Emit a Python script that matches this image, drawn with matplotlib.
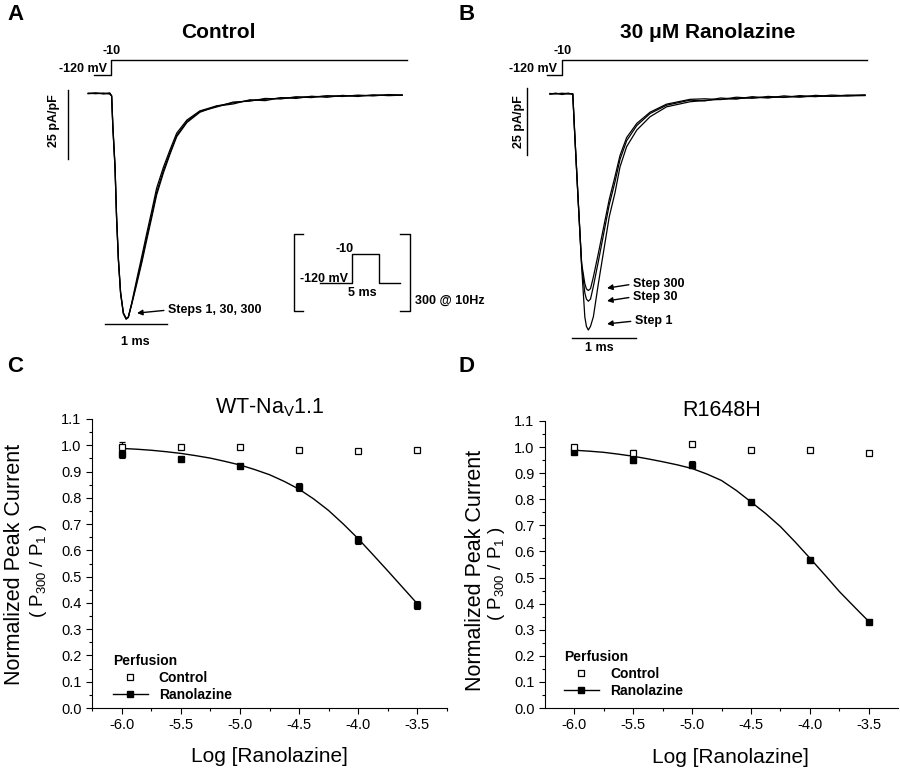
import matplotlib
matplotlib.use("Agg")
import matplotlib.pyplot as plt
from matplotlib.lines import Line2D
from matplotlib.ticker import MultipleLocator, FormatStrFormatter

plt.rcParams['font.family'] = ['Liberation Sans', 'DejaVu Sans']
plt.rcParams['mathtext.fontset'] = 'custom'
plt.rcParams['mathtext.rm'] = 'Liberation Sans'
plt.rcParams['mathtext.it'] = 'Liberation Sans:italic'
plt.rcParams['mathtext.bf'] = 'Liberation Sans:bold'
plt.rcParams['axes.unicode_minus'] = False

# ---- current traces (ms, pA/pF) ----
a_time = [-0.37, -0.25, -0.12, -0.02, 0.01, 0.03, 0.065, 0.09, 0.12, 0.155, 0.2, 0.245,
          0.28, 0.335, 0.415, 0.5, 0.58, 0.66, 0.74, 0.85, 0.955, 1.065, 1.23, 1.44,
          1.71, 1.98, 2.25, 2.5, 2.75, 3.0, 3.25, 3.5, 3.75, 4.0, 4.25, 4.5, 4.72]
a_step1 = [0.2, 0.4, 0.0, 0.4, -0.7, -11.9, -26.4, -44.4, -59.9, -71.8, -79.1, -81.2,
           -80.5, -75.5, -67.1, -58.5, -50.2, -42.2, -33.9, -26.4, -20.2, -14.1, -9.4, -6.1,
           -4.3, -3.2, -2.3, -1.9, -1.5, -1.2, -1.0, -0.8, -0.7, -0.6, -0.5, -0.4, -0.4]
a_step30 = [0.3, 0.1, 0.3, 0.2, -0.6, -11.5, -26.0, -44.0, -59.5, -71.5, -79.0, -81.0,
            -80.6, -76.0, -68.8, -60.8, -52.6, -44.6, -36.4, -28.4, -21.8, -15.4, -10.3, -6.6,
            -4.4, -3.6, -2.1, -2.4, -1.3, -1.6, -0.8, -1.2, -0.5, -0.9, -0.3, -0.6, -0.4]
a_step300 = [0.1, 0.3, 0.2, 0.0, -0.8, -12.2, -26.8, -44.8, -60.2, -72.0, -79.3, -81.3,
             -80.7, -75.8, -68.0, -59.8, -51.6, -43.6, -35.4, -27.6, -21.2, -14.9, -9.9, -6.3,
             -4.7, -2.9, -2.6, -1.6, -1.8, -1.0, -1.3, -0.6, -0.9, -0.4, -0.7, -0.2, -0.4]

b_time = [-0.19, -0.1, 0.0, 0.1, 0.17, 0.2, 0.255, 0.31, 0.36, 0.385, 0.415, 0.45,
          0.495, 0.575, 0.66, 0.745, 0.835, 0.915, 1.02, 1.18, 1.39, 1.65, 2.02, 2.25,
          2.5, 2.75, 3.0, 3.25, 3.5, 3.75, 4.0, 4.25, 4.5, 4.78]
b_step1 = [0.0, 0.3, -0.2, 0.2, 0.0, -14.6, -39.7, -64.8, -83.5, -87.0, -88.4, -87.0,
           -83.4, -70.8, -58.4, -46.0, -37.1, -27.3, -19.7, -13.5, -8.5, -4.8, -2.9, -2.4,
           -2.0, -1.7, -1.4, -1.3, -1.1, -1.0, -0.9, -0.8, -0.7, -0.6]
b_step30 = [0.2, 0.0, 0.3, 0.0, 0.1, -14.3, -39.5, -64.0, -74.5, -76.8, -77.6, -76.8,
            -72.0, -62.5, -52.0, -41.5, -33.0, -24.5, -17.5, -11.8, -7.3, -4.2, -2.3, -2.6,
            -1.5, -1.9, -1.0, -1.5, -0.7, -1.2, -0.5, -0.9, -0.4, -0.5]
b_step300 = [-0.1, 0.2, 0.1, 0.3, -0.1, -14.9, -40.0, -63.5, -71.0, -73.0, -73.6, -72.9,
             -68.5, -59.5, -49.5, -39.5, -31.0, -23.0, -16.3, -11.0, -6.8, -3.8, -2.0, -1.8,
             -2.1, -1.2, -1.6, -0.9, -1.3, -0.6, -1.0, -0.4, -0.7, -0.3]

# voltage protocols (ms, mV)
proto_v = [-120, -120, -10, -10]
proto_a_t = [-0.28, 0, 0, 4.8]
proto_b_t = [-0.24, 0, 0, 4.81]
train_t = [-5.9, 0, 0, 5, 5, 8.9]
train_v = [-120, -120, -10, -10, -120, -120]

# ---- use-dependent block ----
log_conc = [-6.0, -5.5, -5.0, -4.5, -4.0, -3.5]
wt_ctrl = [0.995, 0.995, 0.995, 0.983, 0.977, 0.982]
wt_ctrl_err = [0.018, 0.006, 0.005, 0.005, 0.004, 0.008]
wt_rano = [0.965, 0.948, 0.921, 0.840, 0.641, 0.393]
wt_rano_err = [0.012, 0.006, 0.006, 0.015, 0.015, 0.015]

mut_ctrl = [0.999, 0.977, 1.013, 0.989, 0.988, 0.976]
mut_ctrl_err = [0.006, 0.012, 0.005, 0.004, 0.004, 0.008]
mut_rano = [0.982, 0.950, 0.932, 0.788, 0.566, 0.330]
mut_rano_err = [0.006, 0.012, 0.014, 0.006, 0.006, 0.008]

# fitted curves
fit_x = [-6.0, -5.875, -5.75, -5.625, -5.5, -5.375, -5.25, -5.125, -5.0, -4.875, -4.75,
         -4.625, -4.5, -4.375, -4.25, -4.125, -4.0, -3.875, -3.75, -3.625, -3.5]
wt_fit = [0.988, 0.985, 0.981, 0.9755, 0.969, 0.9605, 0.951, 0.9385, 0.925, 0.9075, 0.888,
          0.8625, 0.833, 0.7955, 0.752, 0.7005, 0.645, 0.5845, 0.523, 0.4605, 0.398]
mut_fit = [0.988, 0.9845, 0.980, 0.973, 0.965, 0.955, 0.944, 0.932, 0.918, 0.897, 0.872,
           0.834, 0.790, 0.745, 0.695, 0.636, 0.574, 0.5105, 0.446, 0.388, 0.331]

W, H = 900, 768
fig = plt.figure(figsize=(9, 7.68), dpi=100)


def box(x0, y0, x1, y1):
    """pixel box (top-left origin) -> figure rect"""
    return [x0 / W, 1 - y1 / H, (x1 - x0) / W, (y1 - y0) / H]


def bare_axes(rect, xlim, ylim):
    ax = fig.add_axes(rect)
    ax.set_xlim(xlim)
    ax.set_ylim(ylim)
    ax.axis('off')
    return ax


bold9 = dict(fontsize=9, fontweight='bold')
arrow = dict(arrowstyle='-|>', color='k', lw=1, mutation_scale=8,
             shrinkA=1, shrinkB=0, relpos=(0, 0.5))

# ---------------- A ----------------
axA = bare_axes(box(40, 80, 420, 350), (-1.151, 5.008), (-92.42, 5.054))
for y in (a_step1, a_step30, a_step300):
    axA.plot(a_time, y, color='k', lw=0.9)
axA.plot([-0.697, -0.697], [1.44, 1.44 - 25], color='k', lw=1)
axA.plot([-0.097, -0.097 + 1], [-83.0, -83.0], color='k', lw=1)
axA.text(-0.919, -9.75, '25 pA/pF', rotation=90, ha='center', va='center', **bold9)
axA.text(0.39, -90.6, '1 ms', ha='center', va='baseline', **bold9)
axA.annotate('Steps 1, 30, 300', xy=(0.421, -79.1), xytext=(0.924, -78.0),
             ha='left', va='center', arrowprops=arrow, **bold9)

pA = bare_axes(box(40, 50, 420, 85), (-1.151, 5.008), (-193.3, 63.3))
pA.plot(proto_a_t, proto_v, color='k', lw=1)
pA.text(0.016, 34, '-10', ha='center', va='baseline', **bold9)
pA.text(-0.065, -98, '-120 mV', ha='right', va='baseline', **bold9)

# train inset
axI = bare_axes(box(290, 230, 415, 315), (-11.48, 11.67), (-241.4, 81.0))
axI.plot(train_t, train_v, color='k', lw=1)
axI.plot([0.104, 0.032, 0.032, 0.104], [0.953, 0.953, 0.047, 0.047],
         transform=axI.transAxes, color='k', lw=1, clip_on=False)
axI.plot([0.88, 0.96, 0.96, 0.88], [0.953, 0.953, 0.047, 0.047],
         transform=axI.transAxes, color='k', lw=1, clip_on=False)
axI.text(-1.3, -3.5, '-10', ha='center', va='baseline', **bold9)
axI.text(-0.69, -115, '-120 mV', ha='right', va='baseline', **bold9)
axI.text(1.89, -169, '5 ms', ha='center', va='baseline', **bold9)
axI.text(1.0, 0.129, '300 @ 10Hz', transform=axI.transAxes, ha='left',
         va='baseline', clip_on=False, **bold9)

# ---------------- B ----------------
axB = bare_axes(box(500, 80, 880, 350), (-0.978, 5.016), (-95.88, 5.243))
for y in (b_step1, b_step30, b_step300):
    axB.plot(b_time, y, color='k', lw=0.9)
axB.plot([-0.547, -0.547], [2.13, 2.13 - 25], color='k', lw=1)
axB.plot([0.162, 0.162 + 1], [-91.4, -91.4], color='k', lw=1)
axB.text(-0.683, -10.4, '25 pA/pF', rotation=90, ha='center', va='center', **bold9)
axB.text(0.584, -96.1, '1 ms', ha='center', va='baseline', **bold9)
axB.annotate('Step 300', xy=(0.71, -72.7), xytext=(1.12, -71.2),
             ha='left', va='center', arrowprops=arrow, **bold9)
axB.annotate('Step 30', xy=(0.71, -77.5), xytext=(1.12, -76.0),
             ha='left', va='center', arrowprops=arrow, **bold9)
axB.annotate('Step 1', xy=(0.71, -86.1), xytext=(1.15, -85.0),
             ha='left', va='center', arrowprops=arrow, **bold9)

pB = bare_axes(box(500, 50, 880, 85), (-0.978, 5.016), (-193.3, 63.3))
pB.plot(proto_b_t, proto_v, color='k', lw=1)
pB.text(0.016, 34, '-10', ha='center', va='baseline', **bold9)
pB.text(-0.079, -98, '-120 mV', ha='right', va='baseline', **bold9)

fig.text(218 / W, 1 - 38 / H, 'Control', ha='center', va='baseline',
         fontsize=15, fontweight='bold')
fig.text(708 / W, 1 - 38 / H, '30 \u03bcM Ranolazine', ha='center', va='baseline',
         fontsize=15, fontweight='bold')


# ---------------- C / D ----------------
def dose_panel(rect, xlim, ctrl, ctrl_err, rano, rano_err, fit, title,
               lab1_x, lab1_y, lab2_x, lab2_y, xl_x, xl_y, leg_anchor):
    ax = fig.add_axes(rect)
    ax.plot(fit_x, fit, color='k', lw=1, zorder=2)
    ax.errorbar(log_conc, rano, yerr=rano_err, fmt='s', color='k', ms=4.5,
                capsize=2, elinewidth=0.8, capthick=0.8, zorder=3)
    ax.errorbar(log_conc, ctrl, yerr=ctrl_err, fmt='s', color='k', mfc='white',
                mec='k', mew=0.9, ms=4.5, capsize=2, elinewidth=0.8,
                capthick=0.8, zorder=4)
    ax.set_xlim(xlim)
    ax.set_ylim(0, 1.1)
    for s in ('top', 'right'):
        ax.spines[s].set_visible(False)
    for s in ('left', 'bottom'):
        ax.spines[s].set_linewidth(0.8)
    ax.xaxis.set_major_locator(MultipleLocator(0.5))
    ax.xaxis.set_minor_locator(MultipleLocator(0.25))
    ax.yaxis.set_major_locator(MultipleLocator(0.1))
    ax.yaxis.set_minor_locator(MultipleLocator(0.05))
    ax.xaxis.set_major_formatter(FormatStrFormatter('%.1f'))
    ax.yaxis.set_major_formatter(FormatStrFormatter('%.1f'))
    ax.tick_params(which='major', direction='out', length=4.5, width=0.8,
                   labelsize=10.5, pad=3)
    ax.tick_params(which='minor', direction='out', length=2.5, width=0.8)
    ax.set_title(title, fontsize=15.5, pad=0)
    ax.text(lab1_x, lab1_y, 'Normalized Peak Current', rotation=90,
            transform=ax.transAxes, ha='center', va='center', fontsize=15.5)
    ax.text(lab2_x, lab2_y, '( P$_{300}$ / P$_{1}$ )', rotation=90,
            transform=ax.transAxes, ha='center', va='center', fontsize=13.5)
    ax.text(xl_x, xl_y, 'Log [Ranolazine]', transform=ax.transAxes,
            ha='center', va='baseline', fontsize=15)
    handles = [Line2D([], [], ls='none', marker='s', mfc='white', mec='k',
                      mew=0.9, ms=4.5),
               Line2D([], [], color='k', lw=1, marker='s', ms=4.5)]
    ax.legend(handles, ['Control', 'Ranolazine'], title='Perfusion',
              title_fontproperties={'weight': 'bold', 'size': 10},
              prop={'weight': 'bold', 'size': 10}, frameon=False,
              loc='lower left', bbox_to_anchor=leg_anchor, alignment='left',
              handlelength=2.5, handletextpad=0.8, labelspacing=0.2,
              borderpad=0, borderaxespad=0)
    return ax


dose_panel(box(92, 419, 447, 708), (-6.254, -3.246), wt_ctrl, wt_ctrl_err,
           wt_rano, wt_rano_err, wt_fit, 'WT-Na$_{\\mathrm{V}}$1.1',
           -0.217, 0.498, -0.152, 0.474, 0.499, -0.186, (0.059, 0.022))
dose_panel(box(545, 421, 898, 708), (-6.246, -3.254), mut_ctrl, mut_ctrl_err,
           mut_rano, mut_rano_err, mut_fit, 'R1648H',
           -0.198, 0.481, -0.137, 0.47, 0.524, -0.19, (0.054, 0.035))

for lab, x, y in (('A', 15, 15), ('B', 467, 15), ('C', 15, 366), ('D', 467, 366)):
    fig.text(x / W, 1 - y / H, lab, ha='center', va='center',
             fontsize=16, fontweight='bold')

fig.savefig('out.png', dpi=100)
